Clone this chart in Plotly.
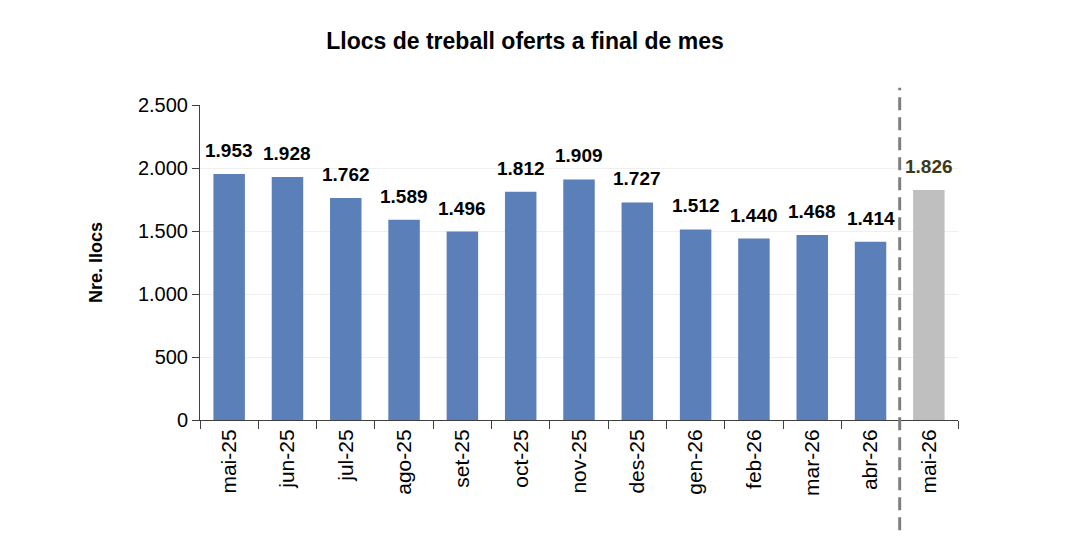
import plotly.graph_objects as go

categories = ["mai-25", "jun-25", "jul-25", "ago-25", "set-25", "oct-25", "nov-25",
              "des-25", "gen-26", "feb-26", "mar-26", "abr-26", "mai-26"]
values = [1953, 1928, 1762, 1589, 1496, 1812, 1909, 1727, 1512, 1440, 1468, 1414, 1826]
y_ticks = [0, 500, 1000, 1500, 2000, 2500]

def fmt(v):
    return f"{v:,}".replace(",", ".")

colors = ["#5B7FB9"] * (len(values) - 1) + ["#BFBFBF"]
text_colors = ["#000000"] * (len(values) - 1) + ["#3A3A1A"]

fig = go.Figure()
fig.add_trace(go.Bar(
    x=categories, y=values,
    marker=dict(color=colors, line=dict(width=0)),
    width=0.54,
))

for c, v, tc in zip(categories, values, text_colors):
    fig.add_annotation(x=c, y=v, text=f"<b>{fmt(v)}</b>", showarrow=False,
                       xanchor="center", yanchor="bottom", yshift=11,
                       font=dict(family="Liberation Sans, Arial", size=19, color=tc))

fig.add_shape(type="line", xref="x", yref="paper",
              x0=11.5, x1=11.5, y0=-0.35, y1=1.055,
              line=dict(color="#7F7F7F", width=3, dash="13px,7px"))

fig.update_layout(
    width=1068, height=542,
    margin=dict(l=200, r=110, t=105, b=122),
    paper_bgcolor="white", plot_bgcolor="white",
    separators=",.",
    showlegend=False,
    title=dict(text="<b>Llocs de treball oferts a final de mes</b>",
               x=0.4916, xanchor="center", y=0.924, yanchor="middle",
               font=dict(family="Liberation Sans, Arial", size=23, color="#000000")),
    font=dict(family="Liberation Sans, Arial", color="#000000"),
)
fig.update_xaxes(
    type="category", tickangle=-90, tickson="boundaries",
    ticks="outside", ticklen=8, tickcolor="#404040",
    showline=True, linecolor="#404040", linewidth=1,
    tickfont=dict(size=21), showgrid=False,
)
fig.update_yaxes(
    range=[0, 2500], tickvals=y_ticks, tickformat=",d",
    ticks="outside", ticklen=7, tickcolor="#404040",
    showline=True, linecolor="#404040", linewidth=1,
    showgrid=True, gridcolor="#EFEFEF", gridwidth=1,
    tickfont=dict(size=20), zeroline=False,
    title=dict(text="<b>Nre. llocs</b>", font=dict(size=18), standoff=30),
)

fig.write_html("out.html")
